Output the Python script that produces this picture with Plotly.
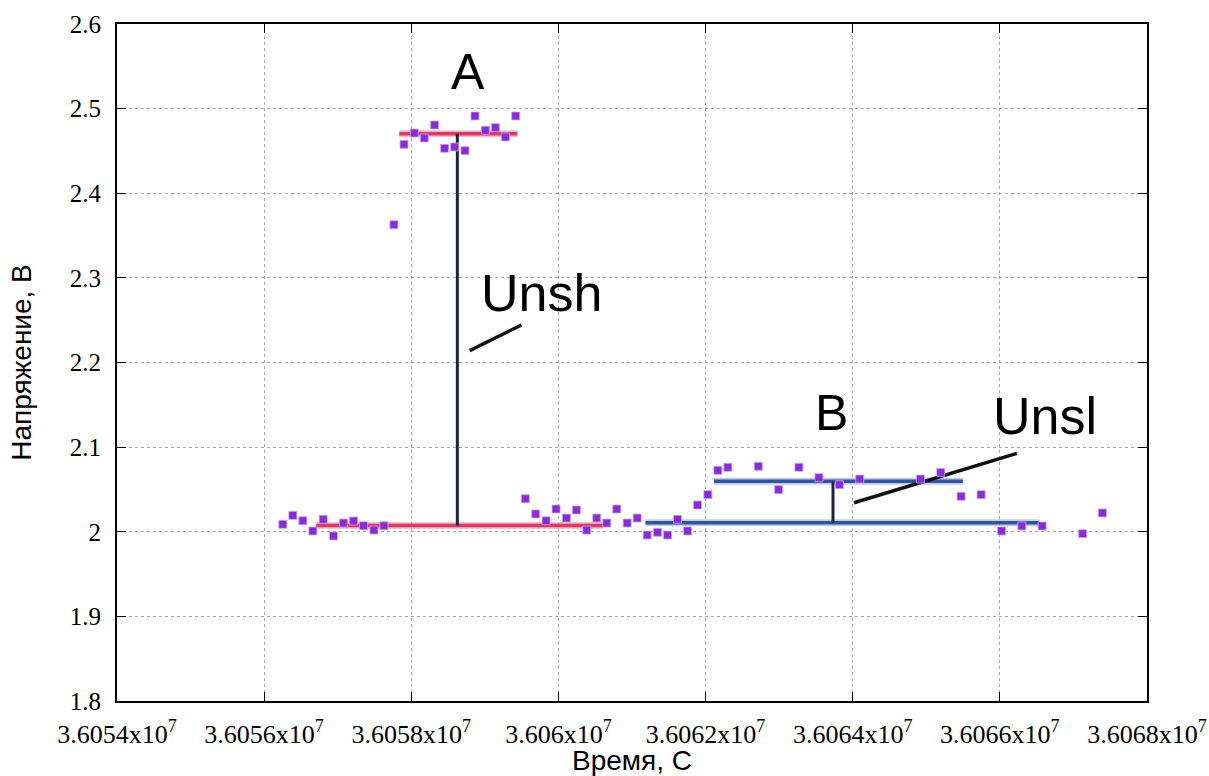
import plotly.graph_objects as go

# ---- data ----
time_s = [36056254, 36056390, 36056526, 36056662, 36056803, 36056943, 36057079, 36057215,
          36057351, 36057492, 36057628, 36057764, 36057901, 36058041, 36058177, 36058317,
          36058453, 36058589, 36058730, 36058866, 36059007, 36059143, 36059279, 36059419,
          36059551, 36059691, 36059832, 36059968, 36060109, 36060245, 36060385, 36060521,
          36060657, 36060793, 36060934, 36061070, 36061207, 36061347, 36061483, 36061619,
          36061755, 36061891, 36062031, 36062167, 36062303, 36062717, 36062993, 36063269,
          36063541, 36063819, 36064095, 36064921, 36065197, 36065473, 36065745, 36066023,
          36066299, 36066575, 36067125, 36067394]
voltage = [2.0088, 2.0194, 2.0130, 2.0009, 2.0147, 1.9950, 2.0103, 2.0127,
           2.0071, 2.0020, 2.0071, 2.3628, 2.4578, 2.4712, 2.4653, 2.4806,
           2.4531, 2.4547, 2.4503, 2.4913, 2.4744, 2.4775, 2.4665, 2.4913,
           2.0390, 2.0210, 2.0130, 2.0269, 2.0162, 2.0257, 2.0020, 2.0162,
           2.0103, 2.0269, 2.0103, 2.0162, 1.9961, 1.9993, 1.9961, 2.0147,
           2.0009, 2.0316, 2.0438, 2.0726, 2.0762, 2.0773, 2.0497, 2.0762,
           2.0639, 2.0556, 2.0623, 2.0623, 2.0702, 2.0419, 2.0438, 2.0009,
           2.0068, 2.0068, 1.9977, 2.0222]

# hand-drawn level lines (A region, red)
a_high_t = [36057837, 36059442]
a_high_u = [2.4704, 2.4704]
a_low_t = [36056707, 36060608]
a_low_u = [2.0074, 2.0074]
a_step_t = [36058626, 36058626]
a_step_u = [2.0074, 2.4704]
unsh_ptr_t = [36058793, 36059496]
unsh_ptr_u = [2.2140, 2.2443]

# hand-drawn level lines (B region, blue)
b_high_t = [36062115, 36065496]
b_high_u = [2.0596, 2.0596]
b_low_t = [36061183, 36066530]
b_low_u = [2.0107, 2.0107]
b_step_t = [36063732, 36063732]
b_step_u = [2.0107, 2.0596]
unsl_ptr_t = [36064017, 36066231]
unsl_ptr_u = [2.0343, 2.0927]

x_tickvals = [36054000, 36056000, 36058000, 36060000, 36062000, 36064000, 36066000, 36068000]
x_ticktext = ["3.6054x10<sup>7</sup>", "3.6056x10<sup>7</sup>", "3.6058x10<sup>7</sup>",
              "3.606x10<sup>7</sup>", "3.6062x10<sup>7</sup>", "3.6064x10<sup>7</sup>",
              "3.6066x10<sup>7</sup>", "3.6068x10<sup>7</sup>"]
y_tickvals = [1.8, 1.9, 2.0, 2.1, 2.2, 2.3, 2.4, 2.5, 2.6]
y_ticktext = ["1.8", "1.9", "2", "2.1", "2.2", "2.3", "2.4", "2.5", "2.6"]

labels = ["A", "Unsh", "B", "Unsl"]
label_t = [36058775, 36059769, 36063714, 36066612]
label_u = [2.5433, 2.2821, 2.1403, 2.1368]
label_size = [50, 52, 50, 52]

fig = go.Figure()

def seg(t, u, color, width, opacity=1.0):
    fig.add_trace(go.Scatter(x=t, y=u, mode="lines", opacity=opacity,
                             line=dict(color=color, width=width), hoverinfo="skip",
                             showlegend=False))

# glows
seg(a_high_t, a_high_u, "#f08aa5", 7, 0.55)
seg(a_low_t, a_low_u, "#f08aa5", 7, 0.55)
seg(b_high_t, b_high_u, "#8ea6d6", 7, 0.55)
seg(b_low_t, b_low_u, "#8ea6d6", 7, 0.55)

seg(a_high_t, a_high_u, "#d83a63", 3.5)
seg(a_low_t, a_low_u, "#d83a63", 3.5)
seg(b_high_t, b_high_u, "#34549a", 3.5)
seg(b_low_t, b_low_u, "#34549a", 3.5)
seg(a_step_t, a_step_u, "#1c2540", 3)
seg(b_step_t, b_step_u, "#1c2540", 3)
seg(unsh_ptr_t, unsh_ptr_u, "#111111", 3.5)
seg(unsl_ptr_t, unsl_ptr_u, "#111111", 3.5)

fig.add_trace(go.Scatter(x=time_s, y=voltage, mode="markers",
                         marker=dict(symbol="square", size=8, color="#8a2bd8",
                                     line=dict(color="#c9a6f0", width=0.8)),
                         showlegend=False))

for txt, t, u, s in zip(labels, label_t, label_u, label_size):
    fig.add_annotation(x=t, y=u, text=txt, showarrow=False,
                       font=dict(family="Liberation Sans, Arial", size=s, color="black"))

axis_common = dict(showline=True, linecolor="black", linewidth=2, mirror="allticks",
                   ticks="inside", ticklen=9, tickcolor="black", tickwidth=1,
                   showgrid=True, gridcolor="#a8a8a8", griddash="dot", gridwidth=1,
                   zeroline=False, automargin=False)

fig.update_xaxes(range=[36054000, 36068000], tickvals=x_tickvals, ticktext=x_ticktext,
                 tickfont=dict(family="Liberation Serif, Times New Roman", size=26, color="black"),
                 title=dict(text="Время, С", standoff=0,
                            font=dict(family="Liberation Sans, Arial", size=28, color="black")),
                 ticklabelstandoff=9,
                 **axis_common)
fig.update_yaxes(range=[1.8, 2.6], tickvals=y_tickvals, ticktext=y_ticktext,
                 tickfont=dict(family="Liberation Serif, Times New Roman", size=25, color="black"),
                 title=dict(text="Напряжение, В", standoff=30,
                            font=dict(family="Liberation Sans, Arial", size=28, color="black")),
                 ticklabelstandoff=9,
                 **axis_common)

fig.update_layout(width=1209, height=776, margin=dict(l=117, r=62, t=24, b=75),
                  plot_bgcolor="white", paper_bgcolor="white")

fig.write_html("out.html")
